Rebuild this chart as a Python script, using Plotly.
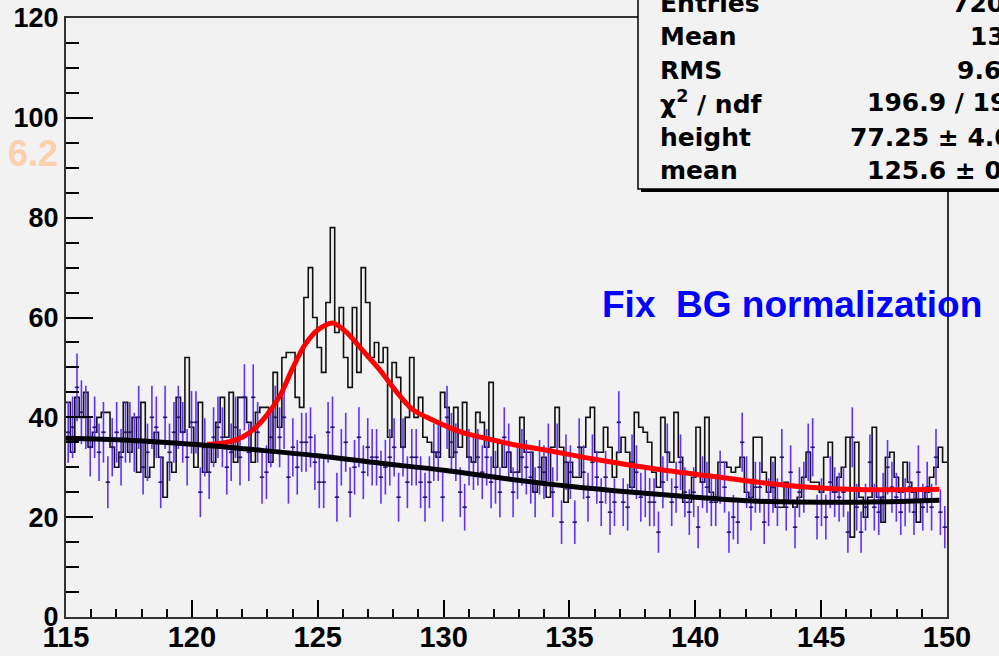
import numpy as np
import plotly.graph_objects as go

# ---------------- data ----------------
x_lo, x_hi, n_bins = 115.0, 150.0, 200

signal_counts = [
    43, 33, 44, 40, 45, 34, 37, 40, 41, 41, 34, 30, 33, 43, 33, 40, 29, 43, 28, 30,
    37, 32, 24, 31, 29, 44, 37, 52, 38, 30, 43, 29, 34, 31, 39, 44, 36, 45, 31, 44,
    44, 39, 31, 41, 42, 42, 31, 49, 38, 52, 53, 53, 44, 42, 64, 70, 60, 54, 49, 63,
    78, 57, 62, 52, 46, 62, 49, 70, 63, 52, 55, 51, 54, 36, 51, 48, 34, 40, 52, 40,
    44, 36, 35, 33, 32, 45, 42, 32, 42, 34, 43, 32, 31, 41, 39, 34, 47, 30, 35, 30,
    33, 29, 29, 40, 33, 33, 25, 27, 32, 24, 34, 42, 34, 23, 31, 28, 28, 34, 40, 42,
    33, 33, 38, 34, 28, 33, 36, 33, 26, 41, 38, 37, 35, 29, 26, 40, 33, 31, 41, 32,
    23, 23, 28, 38, 27, 40, 25, 24, 31, 31, 30, 29, 30, 32, 25, 24, 36, 36, 29, 25,
    32, 22, 22, 27, 23, 22, 24, 28, 33, 27, 27, 25, 32, 35, 25, 28, 30, 36, 16, 35,
    24, 20, 24, 38, 24, 19, 32, 33, 28, 25, 31, 27, 25, 19, 23, 25, 28, 30, 34, 31,
]

bg_counts = [
    37, 38, 46, 41, 40, 34, 38, 33, 37, 27, 34, 37, 32, 37, 37, 35, 40, 30, 33, 40,
    38, 27, 40, 33, 37, 40, 37, 32, 39, 39, 25, 34, 29, 36, 38, 36, 30, 33, 38,
    32, 44, 33, 44, 37, 28, 29, 36, 40, 36, 40, 28, 34, 30, 35, 35, 36, 31, 27, 27,
    37, 38, 24, 32, 35, 25, 30, 36, 29, 34, 32, 32, 28, 30, 32, 34, 24, 34, 27, 32, 32,
    27, 24, 27, 33, 33, 24, 40, 35, 33, 25, 22, 32, 31, 32, 29, 32, 27, 28, 25, 36,
    33, 25, 29, 32, 30, 28, 25, 30, 29, 33, 25, 33, 19, 31, 29, 19, 34, 29, 24, 31,
    28, 23, 28, 21, 23, 39, 23, 22, 31, 29, 24, 25, 23, 23, 17, 27, 33, 23, 26, 31,
    25, 21, 25, 18, 27, 26, 23, 23, 28, 26, 17, 20, 19, 35, 27, 22, 26, 26, 19, 23,
    26, 23, 32, 22, 29, 18, 25, 26, 33, 34, 20, 23, 20, 27, 25, 24, 25, 17, 36, 22,
    17, 22, 31, 22, 21, 24, 30, 26, 24, 21, 23, 26, 21, 29, 22, 26, 22, 32, 21, 18,
]

# fitted curves
fit_x = [120.6, 121.0, 121.5, 122.0, 122.5, 123.0, 123.5, 124.0, 124.5, 125.0,
         125.6, 126.15, 126.8, 127.45, 128.13, 128.76, 129.5, 130.17, 130.8, 131.5,
         132.1, 132.8, 134.1, 136.0, 138.5, 141.1, 143.0, 144.8, 146.8, 149.7]
fit_y = [34.6, 34.7, 35.1, 36.0, 37.8, 40.6, 44.3, 49.8, 54.6, 57.5,
         58.9, 57.0, 53.3, 49.6, 45.1, 41.6, 39.6, 38.1, 36.9, 36.0,
         35.3, 34.5, 33.4, 31.6, 29.6, 27.9, 26.7, 25.9, 25.5, 25.6]

bgfit_x = [115.0, 117.5, 120.0, 122.5, 125.0, 127.5, 130.0, 132.5, 135.0,
           137.5, 140.0, 142.5, 145.0, 147.5, 149.7]
bgfit_y = [35.8, 35.4, 34.6, 33.5, 32.3, 30.8, 29.4, 27.7, 26.2,
           25.0, 24.0, 23.2, 23.0, 23.1, 23.4]

x_ticks = [115, 120, 125, 130, 135, 140, 145, 150]
y_ticks = [0, 20, 40, 60, 80, 100, 120]

stats_labels = ["Entries", "Mean", "RMS", "χ<sup>2</sup> / ndf", "height", "mean"]
stats_values = ["7200", "131.3", "9.643", "196.9 / 195", "77.25 ± 4.09", "125.6 ± 0.1"]

# ---------------- layout geometry ----------------
W, H = 999, 656
L, R, T, B = 66, 52, 18, 39


def px(x):
    return (x - L) / (W - L - R)


def py(y):
    return (H - B - y) / (H - T - B)


edges = np.linspace(x_lo, x_hi, n_bins + 1)
centers = 0.5 * (edges[:-1] + edges[1:])
half_w = 0.5 * (x_hi - x_lo) / n_bins

fig = go.Figure()

# black histogram (step outline)
fig.add_trace(go.Scatter(
    x=list(edges), y=list(signal_counts) + [signal_counts[-1]],
    mode="lines", line=dict(color="#111111", width=1.6, shape="hv"),
    hoverinfo="skip", showlegend=False))

# blue background histogram with error bars
bg_arr = np.array(bg_counts, dtype=float)
fig.add_trace(go.Scatter(
    x=centers, y=bg_arr, mode="markers",
    marker=dict(size=2, color="#2a1877"),
    error_y=dict(type="data", array=np.sqrt(bg_arr), width=0, thickness=1.6, color="#6030ff"),
    error_x=dict(type="data", array=[half_w] * n_bins, width=0, thickness=1.6, color="#2a1877"),
    showlegend=False))

# red fit
fig.add_trace(go.Scatter(
    x=fit_x, y=fit_y, mode="lines",
    line=dict(color="#ff0000", width=5, shape="spline", smoothing=0.8), showlegend=False))

# black background fit
fig.add_trace(go.Scatter(
    x=bgfit_x, y=bgfit_y, mode="lines",
    line=dict(color="black", width=5, shape="spline"), showlegend=False))

fig.update_layout(
    width=W, height=H,
    margin=dict(l=L, r=R, t=T, b=B, autoexpand=False),
    paper_bgcolor="#f2f2f2", plot_bgcolor="#f2f2f2",
    showlegend=False,
    xaxis=dict(
        range=[x_lo, x_hi], tickmode="array", tickvals=x_ticks, automargin=False,
        ticks="inside", ticklen=17, tickwidth=1.5, tickcolor="black",
        minor=dict(dtick=1, ticks="inside", ticklen=8, tickwidth=1.5, tickcolor="black"),
        showgrid=False, zeroline=False,
        showline=True, linecolor="#333333", linewidth=2, mirror=True,
        ticklabelstandoff=-7,
        tickfont=dict(family="Liberation Sans Narrow, Liberation Sans, Arial", size=29,
                      weight="bold", color="black"),
    ),
    yaxis=dict(
        range=[0, 120], tickmode="array", tickvals=y_ticks, automargin=False,
        ticks="inside", ticklen=27, tickwidth=1.5, tickcolor="black",
        minor=dict(dtick=5, ticks="inside", ticklen=13, tickwidth=1.5, tickcolor="black"),
        showgrid=False, zeroline=False,
        showline=True, linecolor="#333333", linewidth=2, mirror=True,
        tickfont=dict(family="Liberation Sans, Arial", size=27, weight="bold", color="black"),
    ),
)

# stats box (shadow + box)
fig.add_shape(type="rect", xref="paper", yref="paper",
              x0=px(641), x1=px(1200), y0=py(192), y1=py(-40),
              fillcolor="black", line=dict(width=0), layer="above")
fig.add_shape(type="rect", xref="paper", yref="paper",
              x0=px(638), x1=px(1197), y0=py(189), y1=py(-43),
              fillcolor="#f2f2f2", line=dict(color="black", width=1.5), layer="above")

row_y = [3, 37, 70, 103, 137, 170]
value_x = [950, 968, 955, 865, 848, 865]
sfont = dict(family="DejaVu Sans, Liberation Sans", size=25, color="black", weight="bold")
for lab, val, yy, vx in zip(stats_labels, stats_values, row_y, value_x):
    fig.add_annotation(text=lab, xref="paper", yref="paper", x=px(658), y=py(yy),
                       xanchor="left", yanchor="middle", showarrow=False, font=sfont)
    fig.add_annotation(text=val, xref="paper", yref="paper", x=px(vx), y=py(yy),
                       xanchor="left", yanchor="middle", showarrow=False, font=sfont)

fig.add_annotation(text="Fix\u00a0 BG normalization", xref="paper", yref="paper",
                   x=px(600), y=py(304), xanchor="left", yanchor="middle", showarrow=False,
                   font=dict(family="Liberation Sans, Arial", size=37, color="#0000ff", weight="bold"))

fig.add_annotation(text="6.2", xref="paper", yref="paper",
                   x=px(6), y=py(153), xanchor="left", yanchor="middle", showarrow=False,
                   font=dict(family="Liberation Sans, Arial", size=36, color="#fcd0ab", weight="bold"))

fig.write_html("out.html", config={"displayModeBar": False},
               post_script="document.body.style.margin='0';document.body.style.overflow='hidden';")
